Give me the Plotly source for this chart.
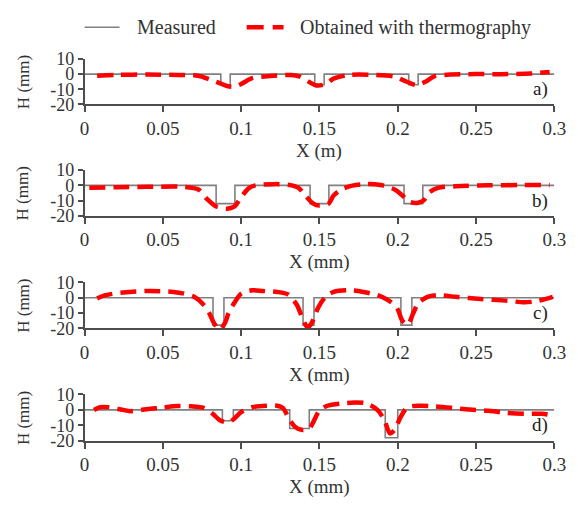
import plotly.graph_objects as go

# ---------------- data ----------------
# Measured profiles (step outlines)
meas_a_x = [0, 0.087, 0.087, 0.093, 0.093, 0.147, 0.147, 0.153, 0.153, 0.207, 0.207, 0.213, 0.213, 0.3]
meas_a_y = [0, 0, -7, -7, 0, 0, -7, -7, 0, 0, -7, -7, 0, 0]

meas_b_x = [0, 0.084, 0.084, 0.096, 0.096, 0.144, 0.144, 0.156, 0.156, 0.204, 0.204, 0.216, 0.216, 0.3]
meas_b_y = [0, 0, -12, -12, 0, 0, -12, -12, 0, 0, -12, -12, 0, 0]

meas_c_x = [0, 0.082, 0.082, 0.089, 0.089, 0.1395, 0.1395, 0.1465, 0.1465, 0.202, 0.202, 0.209, 0.209, 0.3]
meas_c_y = [0, 0, -18, -18, 0, 0, -18, -18, 0, 0, -18, -18, 0, 0]

meas_d_x = [0, 0.088, 0.088, 0.095, 0.095, 0.131, 0.131, 0.1435, 0.1435, 0.192, 0.192, 0.2, 0.2, 0.3]
meas_d_y = [0, 0, -7, -7, 0, 0, -12, -12, 0, 0, -18, -18, 0, 0]

# Thermography estimates
th_a_x = [0.008, 0.02, 0.04, 0.06, 0.073, 0.08, 0.086, 0.091, 0.0955, 0.1, 0.107, 0.115, 0.132, 0.137,
          0.141, 0.148, 0.154, 0.159, 0.169, 0.185, 0.198, 0.2035, 0.2075, 0.212, 0.218, 0.223, 0.23,
          0.25, 0.27, 0.285, 0.297]
th_a_y = [-1, -0.5, -0.3, -0.5, -1.2, -3.5, -5.8, -7.8, -8.3, -6.5, -2.7, -1.5, -0.6, -1.5,
          -3.7, -7.5, -6.5, -3, -0.5, -0.5, -1.6, -4, -5.8, -7.3, -4.8, -1.6, -0.5,
          0, 0, 0.4, 1.4]

th_b_x = [0.003, 0.02, 0.04, 0.0635, 0.0727, 0.078, 0.084, 0.091, 0.0955, 0.1, 0.1047, 0.109, 0.121,
          0.13, 0.1366, 0.141, 0.1458, 0.15, 0.156, 0.159, 0.164, 0.171, 0.18, 0.189, 0.198, 0.203,
          0.2075, 0.213, 0.2166, 0.22, 0.2257, 0.237, 0.258, 0.28, 0.297]
th_b_y = [-1.6, -1.2, -1, -1, -2.7, -8.8, -13.9, -15.3, -14, -7.8, -2, 0, 0.8,
          0.4, -1.6, -6.7, -11.8, -13.3, -11.8, -6.7, -2.7, -0.2, 0.8, 0.2, -2.7, -6.7,
          -10.8, -11.4, -9.8, -4.7, -1.6, -0.6, 0, 0.2, 0.2]

th_c_x = [0.008, 0.0133, 0.0247, 0.0407, 0.0567, 0.0635, 0.07, 0.076, 0.0795, 0.083, 0.0864, 0.0898,
          0.092, 0.0955, 0.1, 0.107, 0.114, 0.123, 0.13, 0.1355, 0.139, 0.1423, 0.1446, 0.147, 0.149,
          0.1538, 0.159, 0.1686, 0.178, 0.187, 0.1938, 0.1995, 0.203, 0.2063, 0.21, 0.213, 0.219,
          0.2257, 0.237, 0.253, 0.269, 0.2806, 0.2874, 0.292, 0.299]
th_c_y = [-0.4, 1.7, 3.4, 4.4, 3.8, 2.7, 0.6, -4.6, -9.9, -17.3, -21, -16.2,
          -9.9, -3.6, 2.7, 4.9, 4.4, 3.8, 2.1, -4.6, -13, -19.4, -17.3, -12, -6.8,
          0.6, 3.8, 4.9, 3.8, 1.7, -1.5, -6.8, -15.2, -17.7, -9.9, -3.6, 0.6,
          1.7, 0.6, -0.8, -1.9, -3, -2.5, -1.5, 0.6]

th_d_x = [0.006, 0.0098, 0.0155, 0.0247, 0.029, 0.0407, 0.0498, 0.059, 0.068, 0.076, 0.0818, 0.0864,
          0.092, 0.0955, 0.1, 0.107, 0.116, 0.123, 0.1266, 0.13, 0.1343, 0.139, 0.1435, 0.1458, 0.15,
          0.155, 0.164, 0.173, 0.18, 0.187, 0.1915, 0.195, 0.198, 0.2018, 0.2063, 0.2143, 0.2235,
          0.235, 0.246, 0.258, 0.269, 0.2806, 0.292, 0.299]
th_d_y = [0, 1.7, 1.7, 0, -0.8, 0.6, 1.5, 2.5, 2.3, 1.3, -2.5, -6.7,
          -8.2, -5.7, -1.5, 1.7, 2.7, 2.7, 1.3, -4.6, -10.9, -13, -12, -8.4, -0.4,
          2.7, 4.2, 4.8, 4.2, 0, -6.7, -15.2, -13, -4.6, 1.7, 2.7, 2.3,
          1.3, 0.2, -0.6, -1.9, -2.5, -2.5, -3.6]

series_names = ["Measured", "Obtained with thermography"]
panel_labels = ["a)", "b)", "c)", "d)"]
x_titles = ["X (m)", "X (mm)", "X (mm)", "X (mm)"]
y_title = "H (mm)"
x_ticks = [0, 0.05, 0.1, 0.15, 0.2, 0.25, 0.3]
x_tick_text = ["0", "0.05", "0.1", "0.15", "0.2", "0.25", "0.3"]
y_ticks = [-20, -10, 0, 10]
y_tick_text = ["-20", "-10", "0", "10"]

# ---------------- figure ----------------
W, H = 578, 506
FONT = "Liberation Serif, Times New Roman, serif"
TXT = "#333333"
AX = "#4d4d4d"
MEAS_C = "#808080"
RED = "#ff0000"
RED_DASH = "16px,8px"

# pixel geometry of panels (top/bottom of plot area)
panel_px = [(51, 98.3), (166.7, 214.3), (283.7, 331.3), (400.3, 448.5)]
x_left_px, x_right_px = 82, 566

fig = go.Figure()
meas = [(meas_a_x, meas_a_y), (meas_b_x, meas_b_y), (meas_c_x, meas_c_y), (meas_d_x, meas_d_y)]
therm = [(th_a_x, th_a_y), (th_b_x, th_b_y), (th_c_x, th_c_y), (th_d_x, th_d_y)]

for i in range(4):
    sfx = "" if i == 0 else str(i + 1)
    fig.add_trace(go.Scatter(x=meas[i][0], y=meas[i][1], mode="lines",
                             line=dict(color=MEAS_C, width=1.6),
                             name=series_names[0], showlegend=False,
                             xaxis="x" + sfx, yaxis="y" + sfx))
    fig.add_trace(go.Scatter(x=therm[i][0], y=therm[i][1], mode="lines",
                             line=dict(color=RED, width=4.5, dash=RED_DASH, shape="spline", smoothing=0.8),
                             name=series_names[1], showlegend=False,
                             xaxis="x" + sfx, yaxis="y" + sfx))

annotations = []
shapes = []

# legend (drawn manually to match the reference's spacing)
leg_y = 1 - 18 / H
shapes.append(dict(type="line", xref="paper", yref="paper", x0=82 / W, x1=118 / W, y0=leg_y, y1=leg_y,
                   line=dict(color=MEAS_C, width=1.6)))
shapes.append(dict(type="line", xref="paper", yref="paper", x0=249 / W, x1=287 / W, y0=leg_y, y1=leg_y,
                   line=dict(color=RED, width=4.5, dash="17px,9px")))
annotations.append(dict(text=series_names[0], x=134 / W, y=leg_y, xref="paper", yref="paper",
                        xanchor="left", yanchor="middle", showarrow=False, font=dict(size=20, color=TXT)))
annotations.append(dict(text=series_names[1], x=302 / W, y=leg_y, xref="paper", yref="paper",
                        xanchor="left", yanchor="middle", showarrow=False, font=dict(size=20, color=TXT)))

layout = dict(
    width=W, height=H,
    margin=dict(l=0, r=0, t=0, b=0),
    paper_bgcolor="white", plot_bgcolor="white",
    font=dict(family=FONT, size=18, color=TXT),
    showlegend=False,
)

for i in range(4):
    sfx = "" if i == 0 else str(i + 1)
    top, bot = panel_px[i]
    layout["xaxis" + sfx] = dict(
        domain=[x_left_px / W, x_right_px / W], range=[0, 0.3],
        anchor="y" + sfx, showgrid=False, zeroline=False,
        showline=True, linecolor=AX, linewidth=1.5,
        ticks="outside", ticklen=6, tickcolor=AX, tickwidth=1.5,
        tickvals=x_ticks, ticktext=x_tick_text, tickfont=dict(size=19, color=TXT),
    )
    layout["yaxis" + sfx] = dict(
        domain=[1 - bot / H, 1 - top / H], range=[-20, 10],
        anchor="x" + sfx, showgrid=False, zeroline=False,
        showline=True, linecolor=AX, linewidth=1.5,
        ticks="outside", ticklen=5, tickcolor=AX, tickwidth=1.5,
        tickvals=y_ticks, ticktext=y_tick_text, tickfont=dict(size=18, color=TXT),
    )
    annotations.append(dict(
        text=panel_labels[i], x=0.297, y=-10, xref="x" + sfx, yref="y" + sfx,
        xanchor="right", yanchor="middle", showarrow=False, font=dict(size=19, color="#222")))
    annotations.append(dict(
        text=y_title, x=19 / W, y=1 - (top + bot) / 2 / H, xref="paper", yref="paper",
        textangle=-90, xanchor="center", yanchor="middle", showarrow=False,
        font=dict(size=17, color=TXT)))
    annotations.append(dict(
        text=x_titles[i], x=(x_left_px + x_right_px) / 2 / W, y=1 - (bot + 48.5) / H,
        xref="paper", yref="paper", xanchor="center", yanchor="middle", showarrow=False,
        font=dict(size=19, color=TXT)))

layout["annotations"] = annotations
layout["shapes"] = shapes
fig.update_layout(**layout)
fig.write_html("out.html")
